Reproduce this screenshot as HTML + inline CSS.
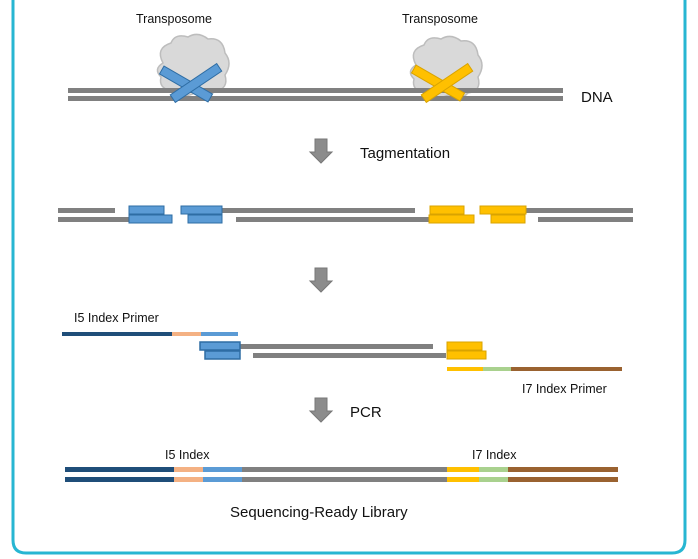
<!DOCTYPE html>
<html><head><style>
html,body{margin:0;padding:0;background:#fff;}
svg{display:block;}
text{font-family:"Liberation Sans",sans-serif;fill:#111;}
</style></head><body>
<svg width="698" height="559" viewBox="0 0 698 559" xmlns="http://www.w3.org/2000/svg">
<path d="M13 0 V540 Q13 553 26 553 H672 Q685 553 685 540 V0" fill="none" stroke="#27b6d2" stroke-width="3"/>
<defs>
<g id="cloud">
<path d="M10 30 Q2 15 18 10 Q22 0 35 4 Q45 -2 55 6 Q70 4 72 20 Q80 30 72 42 Q76 56 62 58 Q55 66 42 60 Q30 66 20 58 Q5 56 8 44 Q0 36 10 30Z" fill="#d9d9d9" stroke="#bdbdbd" stroke-width="1.5"/>
</g>
<g id="arrow"><path d="M-6 0 H6 V13 H11 L0 24 L-11 13 H-6Z" fill="#8c8c8c" stroke="#777" stroke-width="1"/></g>
</defs>
<text x="174" y="23" font-size="12.5" text-anchor="middle">Transposome</text>
<text x="440" y="23" font-size="12.5" text-anchor="middle">Transposome</text>
<use href="#cloud" transform="translate(153,33)"/>
<use href="#cloud" transform="translate(406,35)"/>
<rect x="68" y="88" width="495" height="5" fill="#808080"/>
<rect x="68" y="96" width="495" height="5" fill="#808080"/>
<g stroke="#2e6da4" stroke-width="1" fill="#5b9bd5">
<rect x="-28" y="-4.5" width="56" height="9" transform="translate(186,84) rotate(30)"/>
<rect x="-28" y="-4.5" width="56" height="9" transform="translate(196,83) rotate(-34)"/>
</g>
<g stroke="#d9a300" stroke-width="1" fill="#ffc000">
<rect x="-28" y="-4.5" width="56" height="9" transform="translate(438,83) rotate(30)"/>
<rect x="-28" y="-4.5" width="56" height="9" transform="translate(447,83) rotate(-34)"/>
</g>
<text x="581" y="102" font-size="15">DNA</text>
<use href="#arrow" transform="translate(321,139)"/>
<text x="360" y="158" font-size="15">Tagmentation</text>
<g fill="#808080">
<rect x="58" y="208" width="57" height="5"/>
<rect x="222" y="208" width="193" height="5"/>
<rect x="526" y="208" width="107" height="5"/>
<rect x="58" y="217" width="71" height="5"/>
<rect x="236" y="217" width="193" height="5"/>
<rect x="538" y="217" width="95" height="5"/>
</g>
<g fill="#5b9bd5" stroke="#2e6da4" stroke-width="1">
<rect x="129" y="206" width="35" height="8"/>
<rect x="181" y="206" width="41" height="8"/>
<rect x="129" y="215" width="43" height="8"/>
<rect x="188" y="215" width="34" height="8"/>
</g>
<g fill="#ffc000" stroke="#d9a300" stroke-width="1">
<rect x="430" y="206" width="34" height="8"/>
<rect x="480" y="206" width="46" height="8"/>
<rect x="429" y="215" width="45" height="8"/>
<rect x="491" y="215" width="34" height="8"/>
</g>
<use href="#arrow" transform="translate(321,268)"/>
<text x="74" y="322" font-size="12.5">I5 Index Primer</text>
<rect x="62" y="332" width="110" height="4" fill="#1f4e79"/>
<rect x="172" y="332" width="29" height="4" fill="#f4b183"/>
<rect x="201" y="332" width="37" height="4" fill="#5b9bd5"/>
<rect x="240" y="344" width="193" height="5" fill="#808080"/>
<rect x="253" y="353" width="193" height="5" fill="#808080"/>
<g fill="#5b9bd5" stroke="#2e6da4" stroke-width="1.5">
<rect x="200" y="342" width="40" height="8"/>
<rect x="205" y="351" width="35" height="8"/>
</g>
<g fill="#ffc000" stroke="#d9a300" stroke-width="1">
<rect x="447" y="342" width="35" height="8"/>
<rect x="447" y="351" width="39" height="8"/>
</g>
<rect x="447" y="367" width="36" height="4" fill="#ffc000"/>
<rect x="483" y="367" width="28" height="4" fill="#a9d18e"/>
<rect x="511" y="367" width="111" height="4" fill="#9a6230"/>
<text x="522" y="393" font-size="12.5">I7 Index Primer</text>
<use href="#arrow" transform="translate(321,398)"/>
<text x="350" y="417" font-size="15">PCR</text>
<text x="165" y="459" font-size="12.5">I5 Index</text>
<text x="472" y="459" font-size="12.5">I7 Index</text>
<g>
<rect x="65" y="467" width="109" height="5" fill="#1f4e79"/>
<rect x="174" y="467" width="29" height="5" fill="#f4b183"/>
<rect x="203" y="467" width="39" height="5" fill="#5b9bd5"/>
<rect x="242" y="467" width="205" height="5" fill="#808080"/>
<rect x="447" y="467" width="32" height="5" fill="#ffc000"/>
<rect x="479" y="467" width="29" height="5" fill="#a9d18e"/>
<rect x="508" y="467" width="110" height="5" fill="#9a6230"/>
<rect x="65" y="477" width="109" height="5" fill="#1f4e79"/>
<rect x="174" y="477" width="29" height="5" fill="#f4b183"/>
<rect x="203" y="477" width="39" height="5" fill="#5b9bd5"/>
<rect x="242" y="477" width="205" height="5" fill="#808080"/>
<rect x="447" y="477" width="32" height="5" fill="#ffc000"/>
<rect x="479" y="477" width="29" height="5" fill="#a9d18e"/>
<rect x="508" y="477" width="110" height="5" fill="#9a6230"/>
</g>
<text x="230" y="517" font-size="15">Sequencing-Ready Library</text>
</svg>
</body></html>
